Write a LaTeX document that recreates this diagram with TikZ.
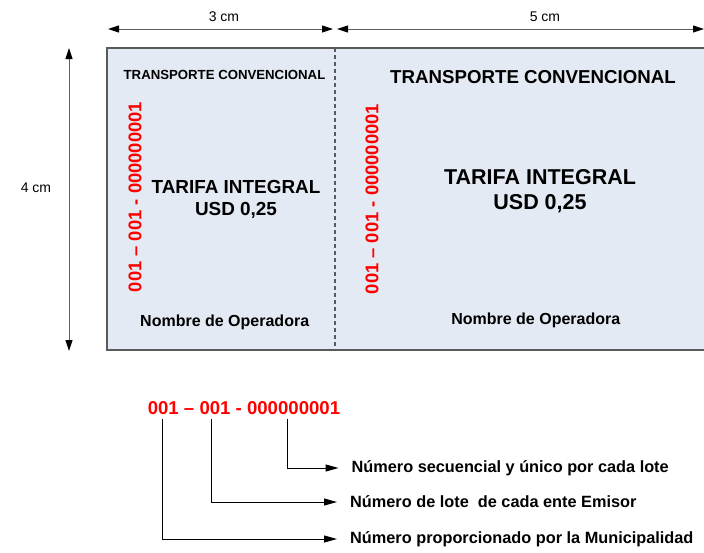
\documentclass[tikz,border=0pt]{standalone}
\usepackage{fontspec}
\setmainfont{Liberation Sans}
\usetikzlibrary{arrows.meta}
\definecolor{ticketfill}{HTML}{E4EAF3}
\definecolor{ticketedge}{HTML}{5A5A5A}
\definecolor{codered}{HTML}{FF0000}
\tikzset{dimline/.style={draw=gray!75!black, line width=1pt,
   {Triangle[length=11pt,width=7pt,color=black]}-{Triangle[length=11pt,width=7pt,color=black]}},
 dimtext/.style={font=\fontsize{14}{16}\selectfont},
 headsmall/.style={font=\bfseries\fontsize{13.2}{15}\selectfont},
 headbig/.style={font=\bfseries\fontsize{18.7}{21}\selectfont},
 tarifa/.style={font=\bfseries\fontsize{18.9}{22}\selectfont, align=center},
 tarifabig/.style={font=\bfseries\fontsize{21.5}{25}\selectfont, align=center},
 operadora/.style={font=\bfseries\fontsize{16}{18}\selectfont},
 serial/.style={font=\bfseries\fontsize{18.4}{20}\selectfont, text=codered, rotate=90},
 code/.style={font=\bfseries\fontsize{18.6}{20}\selectfont, text=codered},
 meaning/.style={font=\bfseries\fontsize{16.3}{18}\selectfont, anchor=west, inner sep=0pt},
 pointer/.style={draw=black, line width=1pt, shorten >=13pt,
   -{Triangle[length=13pt,width=7pt]}},
 }

\begin{document}
\begin{tikzpicture}[x=1pt, y=-1pt]
        \clip (0,0) rectangle (704,552);
        % ticket
        \fill [ticketfill] (107,48) rectangle (720,350);
        \draw [ticketedge, line width=2.5pt] (720,48) -- (107,48) -- (107,350) -- (720,350);
        \draw [ticketedge, line width=2pt, dash pattern=on 4pt off 3pt] (335,48) -- (335,350);
        % dimensions
        \coordinate (w1) at (108,29);
        \coordinate (w2) at (333,29);
        \coordinate (w3) at (337,29);
        \coordinate (w4) at (704,29);
        \coordinate (h1) at (69,48);
        \coordinate (h2) at (69,351);
        \draw [dimline] (w1) -- (w2);
        \draw [dimline] (w3) -- (w4);
        \draw [dimline] (h1) -- (h2);
        \node [dimtext] (wsmall) at (224,17) {3 cm};
        \node [dimtext] (wbig) at (545,17) {5 cm};
        \node [dimtext] (height) at (36,188) {4 cm};
        % stub
        \node [headsmall] (stubhead) at (224.5,75) {TRANSPORTE CONVENCIONAL};
        \node [serial] (stubserial) at (135,197) {001 – 001 - 000000001};
        \node [tarifa] (stubfare) at (236,199) {TARIFA INTEGRAL\\USD 0,25};
        \node [operadora] (stubname) at (224.7,322) {Nombre de Operadora};
        % ticket body
        \node [headbig] (mainhead) at (533,77) {TRANSPORTE CONVENCIONAL};
        \node [serial] (mainserial) at (372,199) {001 – 001 - 000000001};
        \node [tarifabig] (mainfare) at (540,191) {TARIFA INTEGRAL\\USD 0,25};
        \node [operadora] (mainname) at (535.8,320) {Nombre de Operadora};
        % meaning of the serial
        \node [code] (codeline) at (244,408) {001 – 001 - 000000001};
        \coordinate (seq) at (287.3,419);
        \coordinate (lot) at (211,419);
        \coordinate (muni) at (162.3,419);
        \node [meaning] (seqtext) at (351.5,468) {Número secuencial y único por cada lote};
        \node [meaning] (lottext) at (350,502) {Número de lote\ \ de cada ente Emisor};
        \node [meaning] (munitext) at (350,539) {Número proporcionado por la Municipalidad};
        \draw [pointer] (seq) |- (seqtext.west);
        \draw [pointer] (lot) |- (lottext.west);
        \draw [pointer] (muni) |- (munitext.west);
    \end{tikzpicture}
\end{document}
